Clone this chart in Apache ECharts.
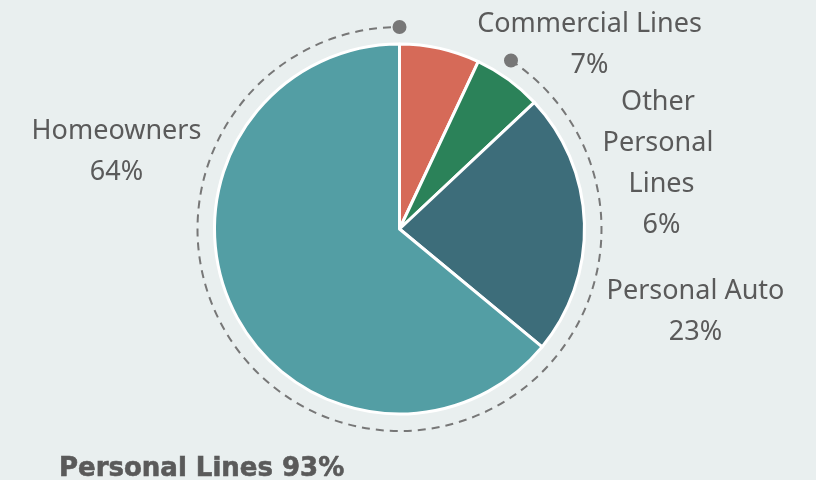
<!DOCTYPE html>
<html>
<head>
<meta charset="utf-8">
<script src="https://cdn.jsdelivr.net/npm/echarts@6/dist/echarts.min.js"></script>
<style>
  html, body { margin: 0; padding: 0; background: #e9efef; }
  #chart { width: 816px; height: 480px; }
</style>
</head>
<body>
<div id="chart"></div>
<script>
// Premium mix by line of business (percent)
const categories = ['Commercial Lines', 'Other Personal Lines', 'Personal Auto', 'Homeowners'];
const shares = [7, 6, 23, 64];
const isPersonal = [false, true, true, true];
const colors = ['#d66a58', '#2b8259', '#3d6d7a', '#539ea4'];

// Label block centres, measured from the pie centre
const labelOffsets = [[190, -184], [262, -65], [296, 83], [-283, -77]];
const labelWidths = [300, 130, 240, 240];

const CX = 399.5, CY = 229, R = 185, BRACKET_R = 202;
const textColor = '#5a5a5a';
const fontFamily = '"Noto Sans", sans-serif';

const personalTotal = shares.filter((v, i) => isPersonal[i]).reduce((a, b) => a + b, 0);
const total = shares.reduce((a, b) => a + b, 0);

// Dashed bracket around the personal-lines slices
const gapDeg = 8.3;
const startFrac = shares.filter((v, i) => !isPersonal[i]).reduce((a, b) => a + b, 0) / total;
const a0 = -Math.PI / 2 + startFrac * 2 * Math.PI + gapDeg * Math.PI / 180;
const a1 = -Math.PI / 2 + 2 * Math.PI;

const chart = echarts.init(document.getElementById('chart'), null, { renderer: 'canvas' });
chart.setOption({
  backgroundColor: '#e9efef',
  animation: false,
  title: {
    text: 'Personal Lines ' + personalTotal + '%',
    left: 54, top: 451,
    textStyle: {
      fontFamily: '"DejaVu Sans", sans-serif', fontWeight: 'bold', fontSize: 26, color: textColor,
      textBorderColor: textColor, textBorderWidth: 0.6
    }
  },
  graphic: [
    {
      type: 'arc', silent: true,
      shape: { cx: CX, cy: CY, r: BRACKET_R, startAngle: a0, endAngle: a1, clockwise: true },
      style: { fill: null, stroke: '#777', lineWidth: 2, lineDash: [8, 6] }
    },
    {
      type: 'circle', silent: true,
      shape: { cx: CX + BRACKET_R * Math.cos(a0), cy: CY + BRACKET_R * Math.sin(a0), r: 7 },
      style: { fill: '#777' }
    },
    {
      type: 'circle', silent: true,
      shape: { cx: CX + BRACKET_R * Math.cos(a1), cy: CY + BRACKET_R * Math.sin(a1), r: 7 },
      style: { fill: '#777' }
    }
  ],
  series: [{
    type: 'pie',
    center: [CX, CY],
    radius: [0, R],
    startAngle: 90,
    clockwise: true,
    avoidLabelOverlap: false,
    itemStyle: { borderColor: '#ffffff', borderWidth: 3 },
    label: {
      show: true,
      position: 'outside',
      formatter: p => p.name + '\n' + p.value + '%',
      fontFamily: fontFamily,
      fontSize: 27,
      lineHeight: 41,
      color: textColor,
      align: 'center',
      overflow: 'break'
    },
    labelLine: { show: false },
    labelLayout: p => ({
      x: CX + labelOffsets[p.dataIndex][0],
      y: CY + labelOffsets[p.dataIndex][1],
      align: 'center',
      verticalAlign: 'middle'
    }),
    data: categories.map((name, i) => ({
      name: name,
      value: shares[i],
      itemStyle: { color: colors[i] },
      label: { width: labelWidths[i] }
    }))
  }]
});
</script>
</body>
</html>
